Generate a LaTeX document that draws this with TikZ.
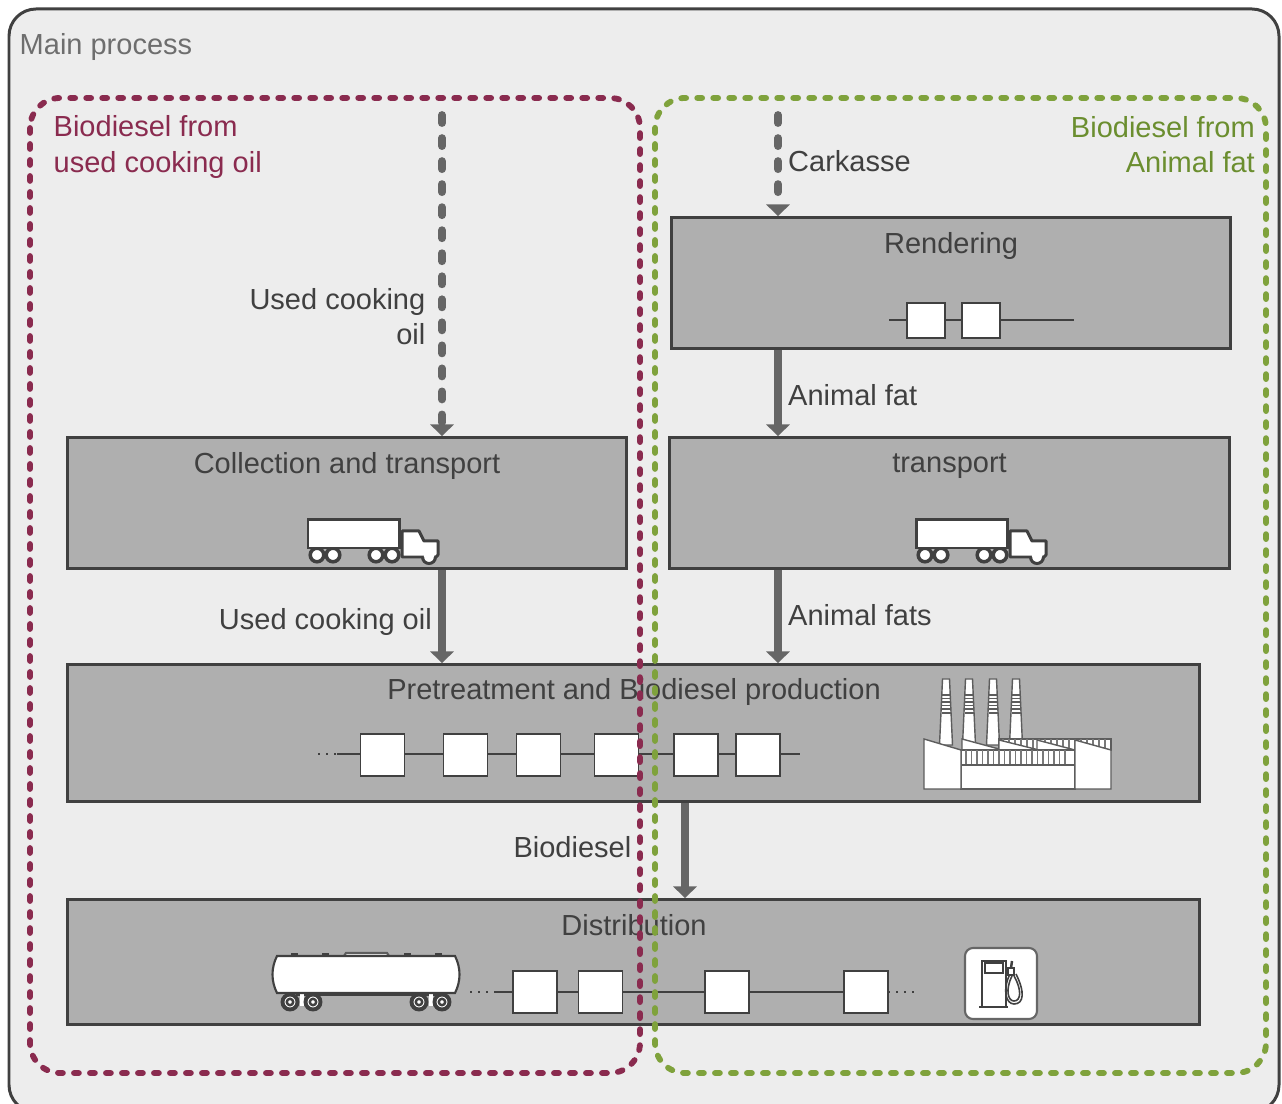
\documentclass[tikz,border=0pt]{standalone}
\usepackage{fontspec}
\setmainfont{Liberation Sans}
\usetikzlibrary{arrows.meta}
\definecolor{framegray}{HTML}{EDEDED}
\definecolor{boxgray}{HTML}{AFAFAF}
\definecolor{linegray}{HTML}{404040}
\definecolor{flowgray}{HTML}{666666}
\definecolor{maintext}{HTML}{6E6E6E}
\definecolor{oilred}{HTML}{8A2B4F}
\definecolor{fatgreen}{HTML}{7FA23C}
\definecolor{fatgreentext}{HTML}{6B8E2F}
\tikzset{
    truck/.pic={
        \foreach \wx in {10,26,69,85}
        {   \draw[linegray,fill=white,line width=1pt] (\wx,35) circle (6.8);
        }
        \draw[linegray,fill=white,line width=0.85pt] (1,0) rectangle (92,28);
        \draw[linegray,fill=white,line width=0.85pt] (122,37) circle (6.5);
        \draw[linegray,fill=white,line width=0.85pt,line join=round] (95,11) -- (112,11) -- (117,21) -- (131,21) -- (131,35) -- (129,37) -- (95,37) -- cycle;
        \draw[white,fill=white] (122,36) circle (4.5);
    },
    factory/.pic={
        \foreach \cx in {946,969,993,1016}
        {   \draw[thinicon] (\cx-3.5,679) -- (\cx+3.5,679) -- (\cx+6.5,745) -- (\cx-6.5,745) -- cycle;
            \foreach \sy in {695,698.5,702,705.5,709,713}
            {   \draw[thinicon,fill=none] (\cx-4.5,\sy) -- (\cx+4.5,\sy);
            }
        }
        \draw[thinicon] (962,739) -- (999,749) -- (999,750) -- (962,750) -- cycle;
        \draw[thinicon] (999,739) -- (1111,739) -- (1111,750) -- (999,750) -- cycle;
        \foreach \hx in {1003,1009,...,1108}
        {   \draw[linegray!70,line width=0.4pt] (\hx,739) -- (\hx,750);
        }
        \draw[thinicon] (999,740) -- (1037,749.5) -- (1037,751) -- (999,751) -- cycle;
        \draw[thinicon] (1037,740) -- (1073,749.5) -- (1073,751) -- (1037,751) -- cycle;
        \draw[thinicon] (961,750) rectangle (1075,789);
        \foreach \hx in {966,971.5,...,1070}
        {   \draw[linegray!70,line width=0.4pt] (\hx,750) -- (\hx,765);
        }
        \draw[thinicon,fill=none] (961,765) -- (1075,765);
        \draw[thinicon] (924,739) -- (961,750) -- (961,789) -- (924,789) -- cycle;
        \draw[thinicon] (1075,740) -- (1111,750) -- (1111,789) -- (1075,789) -- cycle;
    },
    tanker/.pic={
        \foreach \bx in {291,322,404,435}
        {   \fill[linegray] (\bx,953) rectangle (\bx+7,957);
        }
        \draw[thinicon,line width=0.6pt] (344,956) -- (346,953) -- (387,953) -- (389,956);
        \draw[linegray,line width=0.6pt] (296,995) -- (438,995);
        \foreach \wx in {301.5,430.5}
        {   \fill[white] (\wx-2,994) rectangle (\wx+2,1006);
        }
        \foreach \wx in {290,313,419,442}
        {   \draw[linegray,fill=white,line width=1.1pt] (\wx,1002) circle (7.5);
            \draw[linegray,fill=white,line width=0.7pt] (\wx,1002) circle (3.2);
        }
        \draw[linegray,fill=white,line width=0.6pt] (277,956) -- (455,956) .. controls (461,968) and (461,981) .. (455,993) -- (277,993) .. controls (271,981) and (271,968) .. (277,956) -- cycle;
    },
    pump/.pic={
        \draw[linegray!80,fill=white,line width=0.6pt,rounded corners=0.08cm] (965,948) rectangle (1037,1019);
        \draw[linegray,line width=0.45pt] (1006,1007) -- (1006,961) -- (982,961) -- (982,1007);
        \draw[linegray,line width=0.45pt] (979,1007) -- (1008,1007);
        \draw[linegray,line width=0.45pt] (985,963) rectangle (1003,973);
        \draw[linegray,line width=0.45pt] (1010,974) .. controls (1002,990) and (1006,1004) .. (1014,1004) .. controls (1024,1004) and (1025,992) .. (1016,974);
        \draw[linegray,line width=0.45pt] (1012,976) .. controls (1005,990) and (1008,1001) .. (1014,1001) .. controls (1021,1001) and (1022,990) .. (1014,976);
        \draw[linegray,line width=0.45pt,fill=white] (1008,968) rectangle (1014,975);
        \draw[linegray,line width=0.7pt] (1011,968) -- (1012,961);
    },
}
\begin{document}
\begin{tikzpicture}
[   x=0.01cm,y=-0.01cm,font=\fontsize{8.25pt}{10pt}\selectfont,
    procbox/.style={draw=linegray,fill=boxgray,line width=0.8pt,inner sep=0pt},
    stepsq/.style={draw=linegray,fill=white,line width=0.45pt,minimum width=0.44cm,minimum height=0.42cm,inner sep=0pt},
    thinicon/.style={draw=linegray!85,fill=white,line width=0.4pt},
    title/.style={text=linegray,inner sep=0pt},
    flow/.style={draw=flowgray,line width=2pt,-{Triangle[length=3.3pt,width=6.6pt]}},
    flowdash/.style={flow,line width=2.2pt,dash pattern=on 2.3pt off 4.25pt,line cap=round},
    flowlabel/.style={text=linegray,inner sep=0pt},
    route/.style={line width=1.65pt,line cap=round,dash pattern=on 1.4pt off 3.15pt,rounded corners=0.3cm},
]
    \useasboundingbox (0,0) rectangle (1282,1104);
    \clip (0,0) rectangle (1282,1104);
    % frame
    \draw[fill=framegray,draw=linegray,line width=0.85pt,rounded corners=0.27cm] (9,9) rectangle (1279,1112);
    \node[text=maintext,anchor=west,inner sep=0pt] (main) at (19,47) {Main process};

    % process boxes
    \node[procbox,minimum width=5.58cm,minimum height=1.31cm] (render) at (951,283) {};
    \node[procbox,minimum width=5.59cm,minimum height=1.31cm] (transp) at (949.5,503) {};
    \node[procbox,minimum width=5.58cm,minimum height=1.31cm] (collect) at (347,503) {};
    \node[procbox,minimum width=11.31cm,minimum height=1.37cm] (pretreat) at (633.5,733) {};
    \node[procbox,minimum width=11.31cm,minimum height=1.25cm] (distrib) at (633.5,962) {};
    \node[title] (t-render) at (951,246) {Rendering};
    \node[title] (t-transp) at (949.5,466) {transport};
    \node[title] (t-collect) at (347,466) {Collection and transport};
    \node[title] (t-pretreat) at (634,692) {Pretreatment and Biodiesel production};
    \node[title] (t-distrib) at (634,925) {Distribution};

    % flows
    \coordinate (oil-in) at (442,115);
    \coordinate (fat-in) at (778,115);
    \coordinate (bio) at (685,802);
    \draw[flowdash] (oil-in) -- (oil-in |- collect.north);
    \draw[flowdash] (fat-in) -- (fat-in |- render.north);
    \draw[flow] (fat-in |- render.south) -- (fat-in |- transp.north);
    \draw[flow] (fat-in |- transp.south) -- (fat-in |- pretreat.north);
    \draw[flow] (oil-in |- collect.south) -- (oil-in |- pretreat.north);
    \draw[flow] (bio |- pretreat.south) -- (bio |- distrib.north);
    \node[flowlabel,anchor=east,align=right] (l-oil) at (426,317) {Used cooking\\oil};
    \node[flowlabel,anchor=west] (l-car) at (787.5,161) {Carkasse};
    \node[flowlabel,anchor=west] (l-fat) at (787.5,395) {Animal fat};
    \node[flowlabel,anchor=west] (l-fats) at (787.5,615) {Animal fats};
    \node[flowlabel,anchor=east] (l-oil2) at (432.5,622) {Used cooking oil};
    \node[flowlabel,anchor=east] (l-bio) at (632,847) {Biodiesel};

    % process chains
    \coordinate (ra) at (889,320);
    \coordinate (rb) at (1074,320);
    \draw[linegray,line width=0.4pt] (ra) -- (rb);
    \foreach \x [count=\i] in {926,981}
    {   \node[stepsq,minimum width=0.38cm,minimum height=0.35cm] (r-\i) at (\x,320.5) {};
    }
    \coordinate (pd) at (318,754);
    \coordinate (pa) at (337,754);
    \coordinate (pb) at (800,754);
    \draw[linegray,line width=0.4pt] (pa) -- (pb);
    \draw[linegray,line width=0.6pt,dash pattern=on 0.6pt off 1.7pt] (pd) -- (pa);
    \foreach \x [count=\i] in {382.5,465.5,538.5,616.5,696,758}
    {   \node[stepsq] (p-\i) at (\x,755) {};
    }
    \coordinate (da) at (470,992);
    \coordinate (db) at (513,992);
    \coordinate (dc) at (888,992);
    \coordinate (dd) at (917,992);
    \draw[linegray,line width=0.6pt,dash pattern=on 0.6pt off 1.7pt] (da) -- (db) (dc) -- (dd);
    \draw[linegray,line width=0.4pt] (495,992) -- (dc);
    \foreach \x [count=\i] in {535,600.5,727,866}
    {   \node[stepsq] (d-\i) at (\x,992) {};
    }

    % icons
    \pic (truck-a) at (307,520) {truck};
    \pic (truck-b) at (915,520) {truck};
    \pic (plant) at (0,0) {factory};
    \pic (wagon) at (0,0) {tanker};
    \pic (fuel) at (0,0) {pump};

    % routes
    \draw[route,draw=oilred] (30,98) rectangle (640,1073);
    \draw[route,draw=fatgreen] (655,98) rectangle (1266,1073);
    \node[text=oilred,anchor=west,align=left,inner sep=0pt] (l-red) at (53,147) {Biodiesel from\\used cooking oil};
    \node[text=fatgreentext,anchor=east,align=right,inner sep=0pt] (l-green) at (1255.5,145) {Biodiesel from\\Animal fat};
\end{tikzpicture}
\end{document}
